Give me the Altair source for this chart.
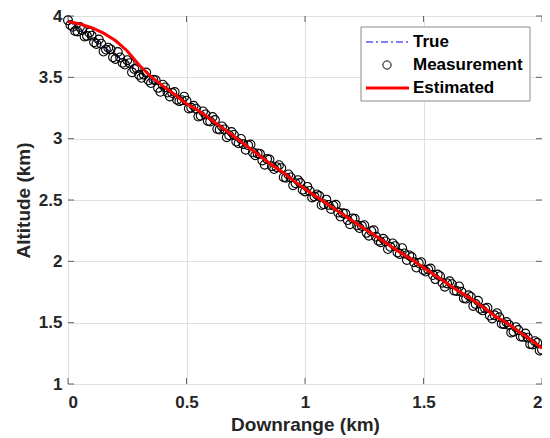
import altair as alt
import pandas as pd

# ---------------- data ----------------
true_x = [0.0, 0.1, 0.2, 0.3, 0.4, 0.5, 0.6, 0.7, 0.8, 0.9, 1.0,
          1.1, 1.2, 1.3, 1.4, 1.5, 1.6, 1.7, 1.8, 1.9, 2.0]
true_y = [3.96, 3.82, 3.68, 3.54, 3.41, 3.29, 3.15, 3.01, 2.87, 2.73, 2.59,
          2.46, 2.33, 2.20, 2.07, 1.95, 1.82, 1.69, 1.55, 1.42, 1.29]

meas_x = [0.00, 0.02, 0.04, 0.06, 0.08, 0.10, 0.12, 0.14, 0.16, 0.18,
          0.20, 0.22, 0.24, 0.26, 0.28, 0.30, 0.32, 0.34, 0.36, 0.38,
          0.40, 0.42, 0.44, 0.46, 0.48, 0.50, 0.52, 0.54, 0.56, 0.58,
          0.60, 0.62, 0.64, 0.66, 0.68, 0.70, 0.72, 0.74, 0.76, 0.78,
          0.80, 0.82, 0.84, 0.86, 0.88, 0.90, 0.92, 0.94, 0.96, 0.98,
          1.00, 1.02, 1.04, 1.06, 1.08, 1.10, 1.12, 1.14, 1.16, 1.18,
          1.20, 1.22, 1.24, 1.26, 1.28, 1.30, 1.32, 1.34, 1.36, 1.38,
          1.40, 1.42, 1.44, 1.46, 1.48, 1.50, 1.52, 1.54, 1.56, 1.58,
          1.60, 1.62, 1.64, 1.66, 1.68, 1.70, 1.72, 1.74, 1.76, 1.78,
          1.80, 1.82, 1.84, 1.86, 1.88, 1.90, 1.92, 1.94, 1.96, 1.98, 2.00,
          0.01, 0.03, 0.05, 0.07, 0.09, 0.11, 0.13, 0.15, 0.17, 0.19,
          0.21, 0.23, 0.25, 0.27, 0.29, 0.31, 0.33, 0.35, 0.37, 0.39,
          0.41, 0.43, 0.45, 0.47, 0.49, 0.51, 0.53, 0.55, 0.57, 0.59,
          0.61, 0.63, 0.65, 0.67, 0.69, 0.71, 0.73, 0.75, 0.77, 0.79,
          0.81, 0.83, 0.85, 0.87, 0.89, 0.91, 0.93, 0.95, 0.97, 0.99,
          1.01, 1.03, 1.05, 1.07, 1.09, 1.11, 1.13, 1.15, 1.17, 1.19,
          1.21, 1.23, 1.25, 1.27, 1.29, 1.31, 1.33, 1.35, 1.37, 1.39,
          1.41, 1.43, 1.45, 1.47, 1.49, 1.51, 1.53, 1.55, 1.57, 1.59,
          1.61, 1.63, 1.65, 1.67, 1.69, 1.71, 1.73, 1.75, 1.77, 1.79,
          1.81, 1.83, 1.85, 1.87, 1.89, 1.91, 1.93, 1.95, 1.97, 1.99]
meas_y = [3.965, 3.912, 3.874, 3.886, 3.838, 3.840, 3.772, 3.774, 3.726, 3.728,
          3.650, 3.662, 3.604, 3.616, 3.568, 3.520, 3.522, 3.476, 3.480, 3.414,
          3.440, 3.376, 3.372, 3.318, 3.314, 3.310, 3.252, 3.244, 3.186, 3.198,
          3.140, 3.152, 3.074, 3.076, 3.028, 3.030, 2.962, 2.954, 2.946, 2.888,
          2.880, 2.822, 2.834, 2.776, 2.768, 2.760, 2.682, 2.684, 2.636, 2.638,
          2.570, 2.574, 2.528, 2.532, 2.466, 2.460, 2.454, 2.398, 2.392, 2.336,
          2.350, 2.294, 2.288, 2.232, 2.246, 2.200, 2.156, 2.162, 2.118, 2.124,
          2.060, 2.064, 2.048, 1.992, 1.986, 1.930, 1.934, 1.888, 1.892, 1.826,
          1.820, 1.814, 1.758, 1.752, 1.696, 1.710, 1.652, 1.614, 1.616, 1.558,
          1.560, 1.544, 1.488, 1.482, 1.426, 1.440, 1.384, 1.378, 1.322, 1.336, 1.280,
          3.926, 3.878, 3.910, 3.832, 3.864, 3.786, 3.808, 3.710, 3.742, 3.664,
          3.706, 3.618, 3.640, 3.542, 3.574, 3.496, 3.539, 3.453, 3.477, 3.382,
          3.418, 3.344, 3.380, 3.306, 3.342, 3.246, 3.268, 3.180, 3.222, 3.144,
          3.176, 3.078, 3.100, 3.012, 3.054, 2.976, 2.998, 2.910, 2.952, 2.864,
          2.876, 2.788, 2.830, 2.752, 2.784, 2.686, 2.708, 2.620, 2.662, 2.584,
          2.607, 2.521, 2.545, 2.459, 2.503, 2.427, 2.461, 2.365, 2.389, 2.303,
          2.347, 2.271, 2.295, 2.209, 2.253, 2.168, 2.184, 2.100, 2.146, 2.072,
          2.107, 2.011, 2.035, 1.949, 1.993, 1.917, 1.941, 1.855, 1.879, 1.793,
          1.837, 1.761, 1.795, 1.699, 1.723, 1.636, 1.678, 1.600, 1.622, 1.534,
          1.577, 1.491, 1.505, 1.419, 1.463, 1.387, 1.411, 1.325, 1.349, 1.273]

est_x = [0.00, 0.05, 0.10, 0.15, 0.20, 0.25, 0.30, 0.35, 0.40, 0.45,
         0.50, 0.55, 0.60, 0.65, 0.70, 0.75, 0.80, 0.85, 0.90, 0.95,
         1.00, 1.05, 1.10, 1.15, 1.20, 1.25, 1.30, 1.35, 1.40, 1.45,
         1.50, 1.55, 1.60, 1.65, 1.70, 1.75, 1.80, 1.85, 1.90, 1.95, 2.00]
est_y = [3.955, 3.935, 3.905, 3.860, 3.800, 3.715, 3.600, 3.505, 3.430, 3.360,
         3.285, 3.230, 3.160, 3.090, 3.020, 2.945, 2.875, 2.800, 2.735, 2.660,
         2.590, 2.525, 2.460, 2.395, 2.330, 2.265, 2.205, 2.140, 2.075, 2.015,
         1.950, 1.885, 1.820, 1.755, 1.695, 1.630, 1.555, 1.500, 1.430, 1.365, 1.290]

x_ticks = [0, 0.5, 1, 1.5, 2]
y_ticks = [1, 1.5, 2, 2.5, 3, 3.5, 4]
legend_labels = ["True", "Measurement", "Estimated"]

# ---------------- styling ----------------
W, H = 474, 368
FONT = "Liberation Sans"
INK = "#262626"
GRID = "#e0e0e0"

xs = alt.Scale(domain=[0, 2], nice=False, zero=False)
ys = alt.Scale(domain=[1, 4], nice=False, zero=False)

x_axis = alt.Axis(values=x_ticks, format="~g", grid=True, gridColor=GRID,
                  ticks=False, domain=False, labelFont=FONT, labelFontSize=17,
                  labelFontWeight="bold", labelColor=INK, labelPadding=10,
                  title="Downrange (km)", titleFont=FONT, titleFontSize=19,
                  titleFontWeight="bold", titleColor=INK, titlePadding=5)
y_axis = alt.Axis(values=y_ticks, format="~g", grid=True, gridColor=GRID,
                  ticks=False, domain=False, labelFont=FONT, labelFontSize=17,
                  labelFontWeight="bold", labelColor=INK, labelPadding=6,
                  title="Altitude (km)", titleFont=FONT, titleFontSize=19,
                  titleFontWeight="bold", titleColor=INK, titlePadding=5)


def X(field):
    return alt.X(field, type="quantitative", scale=xs, axis=x_axis)


def Y(field):
    return alt.Y(field, type="quantitative", scale=ys, axis=y_axis)


df_true = pd.DataFrame({"x": true_x, "y": true_y})
df_meas = pd.DataFrame({"x": meas_x, "y": meas_y})
df_est = pd.DataFrame({"x": est_x, "y": est_y})
df_xt = pd.DataFrame({"x": x_ticks})
df_yt = pd.DataFrame({"y": y_ticks})
one = pd.DataFrame({"a": [0]})

true_line = alt.Chart(df_true).mark_line(
    color="#0000ff", strokeWidth=1, strokeDash=[7, 3, 2, 3]
).encode(x=X("x"), y=Y("y"))

meas = alt.Chart(df_meas).mark_point(
    shape="circle", filled=False, color="black", size=78, strokeWidth=1.1, opacity=1
).encode(x=X("x"), y=Y("y"))

est = alt.Chart(df_est).mark_line(color="#ff0000", strokeWidth=3).encode(
    x=X("x"), y=Y("y"))

# inward ticks (MATLAB style)
tb = alt.Chart(df_xt).mark_tick(orient="vertical", size=6, thickness=1, color=INK).encode(
    x=X("x"), y=alt.value(H - 3))
tt = alt.Chart(df_xt).mark_tick(orient="vertical", size=6, thickness=1, color=INK).encode(
    x=X("x"), y=alt.value(3))
tl = alt.Chart(df_yt).mark_tick(orient="horizontal", size=6, thickness=1, color=INK).encode(
    y=Y("y"), x=alt.value(3))
tr = alt.Chart(df_yt).mark_tick(orient="horizontal", size=6, thickness=1, color=INK).encode(
    y=Y("y"), x=alt.value(W - 3))

# legend (drawn manually)
LX0, LX1, LY0, LY1 = 293, 462, 11, 85
rows = [26, 49, 72]
leg_box = alt.Chart(one).mark_rect(fill="white", stroke="#8a8a8a", strokeWidth=1).encode(
    x=alt.value(LX0), x2=alt.value(LX1), y=alt.value(LY0), y2=alt.value(LY1))
leg_true = alt.Chart(one).mark_rule(color="#0000ff", strokeWidth=1, strokeDash=[7, 3, 2, 3]).encode(
    x=alt.value(298), x2=alt.value(341), y=alt.value(rows[0]))
leg_meas = alt.Chart(one).mark_point(shape="circle", filled=False, color="black", size=68,
                                     strokeWidth=1, opacity=1).encode(
    x=alt.value(319), y=alt.value(rows[1]))
leg_est = alt.Chart(one).mark_rule(color="#ff0000", strokeWidth=3).encode(
    x=alt.value(298), x2=alt.value(341), y=alt.value(rows[2]))
leg_texts = [
    alt.Chart(one).mark_text(align="left", baseline="middle", font=FONT, fontSize=17,
                             fontWeight="bold", color="black").encode(
        x=alt.value(345), y=alt.value(r), text=alt.value(lab))
    for lab, r in zip(legend_labels, rows)
]

chart = alt.layer(
    true_line, meas, est, tb, tt, tl, tr,
    leg_box, leg_true, leg_meas, leg_est, *leg_texts
).properties(
    width=W, height=H,
    autosize=alt.AutoSizeParams(type="none"),
    padding={"left": 60, "top": 8, "right": 0, "bottom": 54},
).configure_view(stroke=INK, strokeWidth=1).configure(background="white")

chart.save("out.html", embed_options={"renderer": "svg", "actions": False})
